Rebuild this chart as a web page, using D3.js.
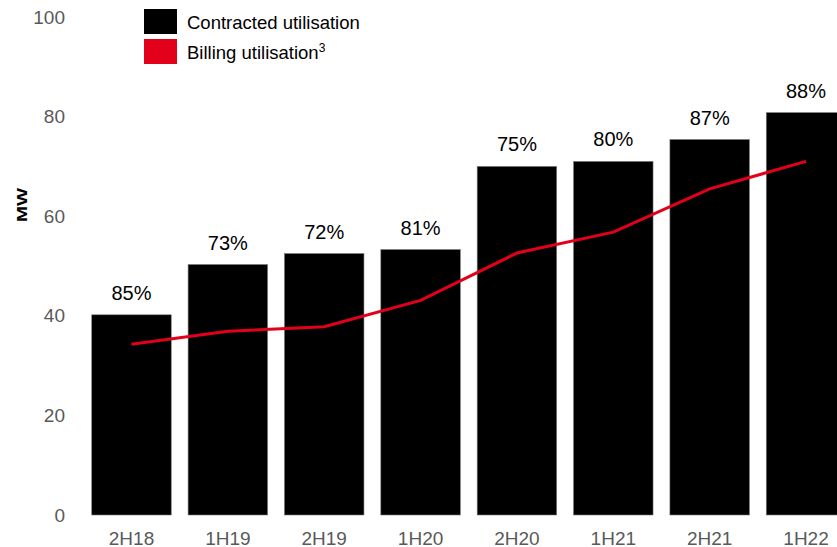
<!DOCTYPE html>
<html>
<head>
<meta charset="utf-8">
<script src="https://cdn.jsdelivr.net/npm/d3@7"></script>
<style>
  html, body { margin: 0; padding: 0; background: #fff; }
  svg { display: block; font-family: Arial, "Liberation Sans", sans-serif; }
</style>
</head>
<body>
<svg id="chart" width="837" height="547"></svg>
<script>
const categories = ["2H18", "1H19", "2H19", "1H20", "2H20", "1H21", "2H21", "1H22"];
const contracted = [40.2, 50.3, 52.5, 53.3, 70.0, 71.0, 75.4, 80.8];
const billing = [34.3, 36.9, 37.8, 43.1, 52.6, 56.8, 65.5, 71.0];
const utilLabels = ["85%", "73%", "72%", "81%", "75%", "80%", "87%", "88%"];
const yTicks = [0, 20, 40, 60, 80, 100];

const svg = d3.select("#chart");

const x = d3.scaleBand()
  .domain(categories)
  .range([83.3, 854.2])
  .paddingInner(0.175)
  .paddingOuter(0.0875);

const y = d3.scaleLinear().domain([0, 100]).range([515, 17]);

// Y axis
const yAxis = svg.append("g")
  .attr("transform", "translate(65,0)")
  .call(d3.axisLeft(y).tickValues(yTicks).tickSize(0).tickPadding(0));
yAxis.select(".domain").remove();
yAxis.selectAll("text")
  .attr("fill", "#595959")
  .style("font-size", "19px")
  .style("font-family", "Arial, 'Liberation Sans', sans-serif");

// X axis
const xAxis = svg.append("g")
  .attr("transform", "translate(0,515)")
  .call(d3.axisBottom(x).tickSize(0).tickPadding(0));
xAxis.select(".domain").remove();
xAxis.selectAll("text")
  .attr("dy", null)
  .attr("y", 29.5)
  .attr("fill", "#595959")
  .style("font-size", "19px")
  .style("font-family", "Arial, 'Liberation Sans', sans-serif");

// MW label
svg.append("text")
  .attr("transform", "translate(27,205) rotate(-90)")
  .attr("text-anchor", "middle")
  .attr("textLength", 34)
  .attr("lengthAdjust", "spacingAndGlyphs")
  .style("font-size", "14px")
  .style("font-weight", "bold")
  .attr("fill", "#000")
  .text("MW");

// Bars
svg.append("g").selectAll("rect")
  .data(categories)
  .join("rect")
  .attr("x", d => x(d))
  .attr("width", x.bandwidth())
  .attr("y", (d, i) => y(contracted[i]))
  .attr("height", (d, i) => y(0) - y(contracted[i]))
  .attr("fill", "#000")
  .attr("stroke", "#7a7a7a")
  .attr("stroke-width", 0.6);

// Percent labels
svg.append("g").selectAll("text")
  .data(categories)
  .join("text")
  .attr("x", d => x(d) + x.bandwidth() / 2)
  .attr("y", (d, i) => y(contracted[i]) - 15)
  .attr("text-anchor", "middle")
  .style("font-size", "20px")
  .attr("fill", "#000")
  .text((d, i) => utilLabels[i]);

// Billing line
const line = d3.line()
  .x((d, i) => x(categories[i]) + x.bandwidth() / 2)
  .y(d => y(d));
svg.append("path")
  .datum(billing)
  .attr("d", line)
  .attr("fill", "none")
  .attr("stroke", "#e2001a")
  .attr("stroke-width", 3);

// Legend
const legend = svg.append("g");
legend.append("rect").attr("x", 144).attr("y", 9).attr("width", 33).attr("height", 25).attr("fill", "#000");
legend.append("rect").attr("x", 144).attr("y", 39).attr("width", 33).attr("height", 25).attr("fill", "#e2001a");
legend.append("text").attr("x", 187).attr("y", 29).style("font-size", "18.5px").attr("fill", "#000")
  .text("Contracted utilisation");
const t2 = legend.append("text").attr("x", 187).attr("y", 59.3).style("font-size", "18.5px").attr("fill", "#000");
t2.append("tspan").text("Billing utilisation");
t2.append("tspan").attr("dy", -7).style("font-size", "12px").text("3");
</script>
</body>
</html>
